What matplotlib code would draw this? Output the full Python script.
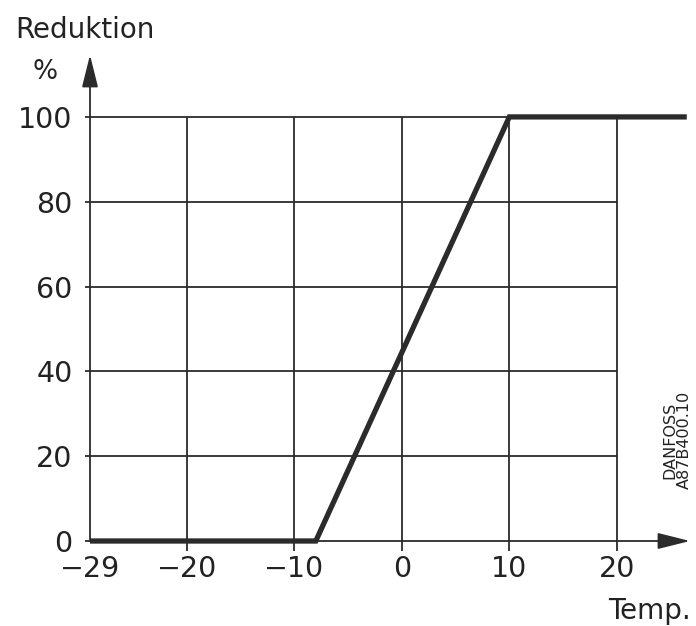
import matplotlib
matplotlib.use("Agg")
import matplotlib.pyplot as plt

plt.rcParams['font.family'] = ['DejaVu Sans']

# Kennlinie: Reduktion über Temperatur
temp = [-29, -8, 10, 26.5]
reduktion = [0, 0, 100, 100]

x_ticks = [-29, -20, -10, 0, 10, 20]
x_labels = ['\u221229', '\u221220', '\u221210', '0', '10', '20']
y_ticks = [0, 20, 40, 60, 80, 100]
grid_x = [-20, -10, 0, 10, 20]
grid_y = [20, 40, 60, 80, 100]

ink = '#2b2b2b'

fig = plt.figure(figsize=(6.96, 6.26), dpi=100)
ax = fig.add_axes([90 / 696, 85 / 626, 600 / 696, 486 / 626])
ax.set_xlim(-29, 26.8)
ax.set_ylim(0, 114.6)
for s in ax.spines.values():
    s.set_visible(False)

# Raster
ax.vlines(grid_x, 0, 100, color=ink, lw=1.3, zorder=1)
ax.hlines(grid_y, -29, 20, color=ink, lw=1.3, zorder=1)

# Achsen mit Pfeilen
ax.annotate('', xy=(26.8, 0), xytext=(-29, 0),
            arrowprops=dict(arrowstyle='-|>,head_length=1.0,head_width=0.25',
                            color=ink, lw=1.3, mutation_scale=20,
                            shrinkA=0, shrinkB=0), annotation_clip=False)
ax.annotate('', xy=(-29, 114.6), xytext=(-29, 0),
            arrowprops=dict(arrowstyle='-|>,head_length=1.0,head_width=0.25',
                            color=ink, lw=1.3, mutation_scale=20,
                            shrinkA=0, shrinkB=0), annotation_clip=False)

# Kurve
ax.plot(temp, reduktion, color=ink, lw=3.8, solid_capstyle='butt',
        solid_joinstyle='miter', zorder=3, clip_on=False)

ax.set_xticks(x_ticks)
ax.set_xticklabels(x_labels)
ax.set_yticks(y_ticks)
ax.tick_params(axis='x', length=7, width=1.3, color=ink, pad=3,
               labelsize=20.5, labelcolor='#222222')
ax.tick_params(axis='y', length=3.6, width=1.3, color=ink, pad=9,
               labelsize=20.5, labelcolor='#222222')
ax.get_xticklines()[0].set_visible(False)

fig.text(15 / 696, 1 - 30 / 626, 'Reduktion', fontsize=20, color='#222222',
         ha='left', va='center')
fig.text(45 / 696, 1 - 72 / 626, '%', fontsize=19, color='#222222',
         ha='center', va='center')
fig.text(691 / 696, 1 - 611 / 626, 'Temp.', fontsize=20, color='#222222',
         ha='right', va='center')
fig.text(677 / 696, 1 - 440 / 626, 'DANFOSS\nA87B400.10', fontsize=11.5,
         color='#222222', rotation=90, ha='center', va='center',
         linespacing=1.0)

fig.savefig('out.png', dpi=100)
